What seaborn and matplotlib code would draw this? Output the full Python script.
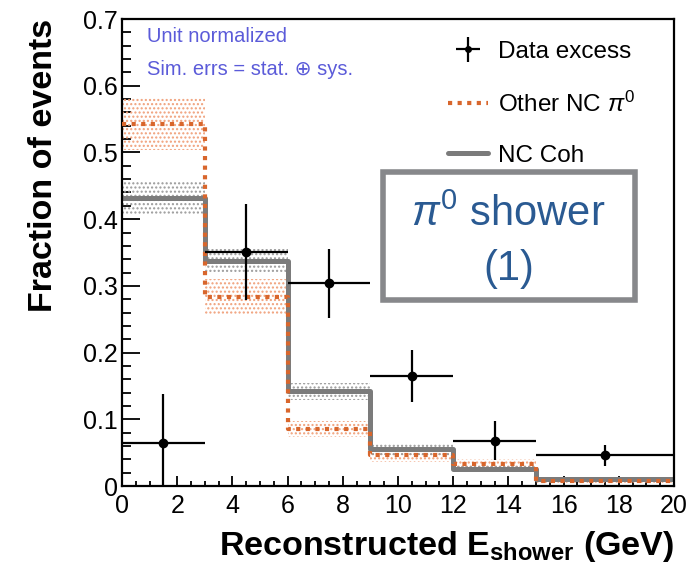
import numpy as np
import pandas as pd
import matplotlib
matplotlib.use("Agg")
import matplotlib.pyplot as plt
from matplotlib.patches import Rectangle
from matplotlib.lines import Line2D
from matplotlib.ticker import MultipleLocator
import seaborn as sns

# Binning of reconstructed shower energy (GeV)
bin_edges = [0, 3, 6, 9, 12, 15, 20]

# Data excess (unit normalized)
data_x = [1.5, 4.5, 7.5, 10.5, 13.5, 17.5]
data_y = [0.065, 0.351, 0.304, 0.165, 0.068, 0.046]
data_yerr = [0.073, 0.072, 0.052, 0.039, 0.029, 0.016]
data_xerr = [1.5, 1.5, 1.5, 1.5, 1.5, 2.5]

# Simulation: Other NC pi0
other_vals = [0.543, 0.284, 0.085, 0.046, 0.033, 0.008]
other_errs = [0.040, 0.026, 0.012, 0.010, 0.008, 0.004]

# Simulation: NC coherent
coh_vals = [0.431, 0.337, 0.142, 0.055, 0.025, 0.010]
coh_errs = [0.024, 0.018, 0.013, 0.008, 0.005, 0.003]

ORANGE = "#d8662c"
ORANGE_BAND = "#f0a07a"
GREY = "#7b7b7b"
GREY_BAND = "#9a9a9a"
TXT_BLUE = "#5b5bd9"
BOX_BLUE = "#2a5a92"

sns.set_theme(style="ticks")
plt.rcParams["font.family"] = ["Liberation Sans", "DejaVu Sans"]
plt.rcParams["mathtext.fontset"] = "custom"
plt.rcParams["mathtext.rm"] = "Liberation Sans"
plt.rcParams["mathtext.bf"] = "Liberation Sans:bold"
plt.rcParams["mathtext.it"] = "Liberation Sans:italic"
plt.rcParams["hatch.linewidth"] = 1.0
plt.rcParams["text.color"] = "black"
plt.rcParams["axes.labelcolor"] = "black"
plt.rcParams["xtick.color"] = "black"
plt.rcParams["ytick.color"] = "black"

fig = plt.figure(figsize=(6.9, 5.73), dpi=100)
ax = fig.add_axes([0.1768, 0.1518, 0.8, 0.815])

edges = np.array(bin_edges, dtype=float)
centers = 0.5 * (edges[:-1] + edges[1:])

# Uncertainty bands (dotted hatch)
for vals, errs, col in [(other_vals, other_errs, ORANGE_BAND), (coh_vals, coh_errs, GREY_BAND)]:
    v = np.array(vals)
    e = np.array(errs)
    ax.stairs(v + e, edges, baseline=v - e, fill=True, facecolor="none",
              edgecolor=col, hatch="....", linewidth=0, zorder=1)

# Simulated histograms as step outlines
coh_df = pd.DataFrame({"energy": centers, "fraction": coh_vals})
other_df = pd.DataFrame({"energy": centers, "fraction": other_vals})
sns.histplot(data=coh_df, x="energy", weights="fraction", bins=list(bin_edges),
             element="step", fill=False, color=GREY, linewidth=3.6, ax=ax, zorder=2)
sns.histplot(data=other_df, x="energy", weights="fraction", bins=list(bin_edges),
             element="step", fill=False, color=ORANGE, linewidth=3.0,
             linestyle=(0, (1, 1.3)), ax=ax, zorder=3)

# Thin baseline histogram at zero
ax.axhline(0, color="#1a1aa0", lw=1.0, zorder=2)

# Data excess with errors
ax.errorbar(data_x, data_y, yerr=data_yerr, xerr=data_xerr, fmt="o", color="black",
            markersize=6, elinewidth=1.6, capsize=0, zorder=5)

ax.set_xlim(0, 20)
ax.set_ylim(0, 0.7)
ax.xaxis.set_major_locator(MultipleLocator(2))
ax.xaxis.set_minor_locator(MultipleLocator(0.5))
ax.yaxis.set_minor_locator(MultipleLocator(0.02))
ax.set_yticks(np.arange(0, 0.71, 0.1))
ax.set_yticklabels(["0", "0.1", "0.2", "0.3", "0.4", "0.5", "0.6", "0.7"])
ax.tick_params(axis="both", which="both", direction="in", labelsize=18, width=1.3,
               colors="black", labelcolor="black", top=False, right=False)
ax.tick_params(axis="y", which="major", length=13, pad=3)
ax.tick_params(axis="y", which="minor", length=6.5)
ax.tick_params(axis="x", which="major", length=7, pad=6)
ax.tick_params(axis="x", which="minor", length=3.5)
for s in ax.spines.values():
    s.set_visible(True)
    s.set_linewidth(1.6)
    s.set_color("black")

ax.set_xlabel(r"Reconstructed E$_{\mathbf{shower}}$ (GeV)", fontsize=24.5, fontweight="bold",
              loc="right", labelpad=8, color="black")
ax.set_ylabel("Fraction of events", fontsize=24.5, fontweight="bold", loc="top",
              labelpad=17, color="black")
ax.set_title("")

# Annotations
ax.text(0.045, 0.963, "Unit normalized", transform=ax.transAxes, color=TXT_BLUE,
        fontsize=14.5, ha="left", va="center")
ax.text(0.045, 0.892, "Sim. errs = stat. \u2295 sys.", transform=ax.transAxes, color=TXT_BLUE,
        fontsize=14.5, ha="left", va="center")

# Legend
h_data = ax.errorbar([], [], yerr=[], xerr=[], fmt="o", color="black", markersize=4,
                     elinewidth=1.6, capsize=0)
h_other = Line2D([], [], color=ORANGE, lw=3.0, linestyle=(0, (1, 1.3)))
h_coh = Line2D([], [], color=GREY, lw=3.6)
ax.legend([h_data, h_other, h_coh], ["Data excess", r"Other NC $\pi^0$", "NC Coh"],
          loc="upper left", bbox_to_anchor=(0.573, 0.974), frameon=False, fontsize=17.5,
          handlelength=1.65, handletextpad=0.4, labelspacing=1.17, borderaxespad=0)

# Topology box
ax.add_patch(Rectangle((9.45, 0.279), 9.15, 0.192, facecolor="white", edgecolor="#87888b",
                       linewidth=4, zorder=6))
ax.text(14.0, 0.406, r"$\mathit{\pi}^0$ shower", color=BOX_BLUE, fontsize=30,
        ha="center", va="center", zorder=7)
ax.text(14.0, 0.326, "(1)", color=BOX_BLUE, fontsize=30, ha="center", va="center", zorder=7)

fig.savefig("out.png", dpi=100)
